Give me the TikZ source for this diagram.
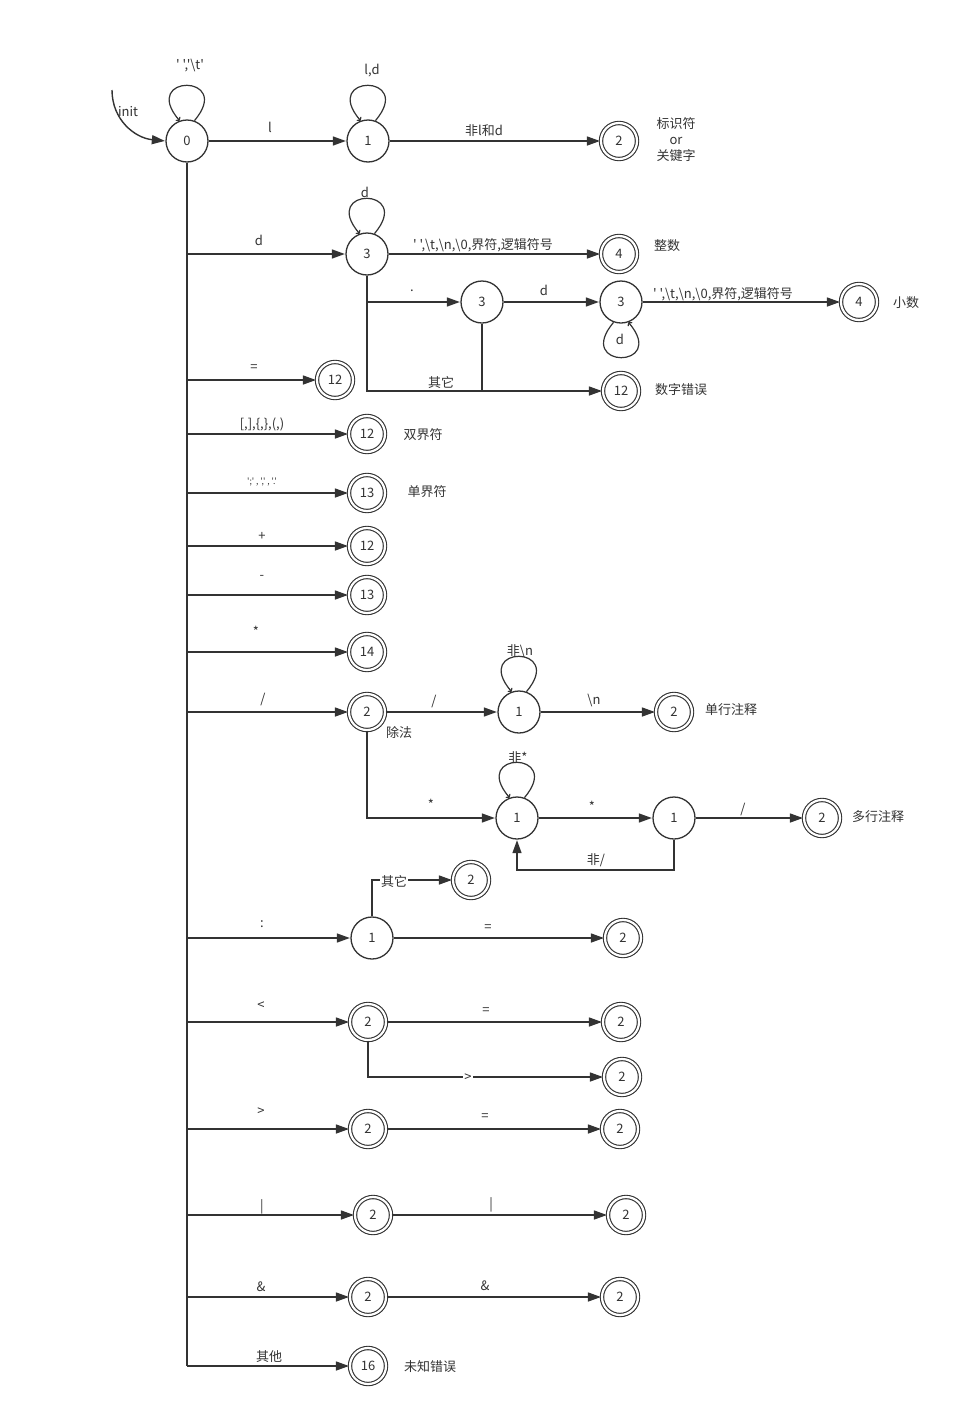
\documentclass[tikz,border=0pt]{standalone}
\usepackage{fontspec}
\newfontfamily\cjk{Noto Sans CJK SC}
\usetikzlibrary{arrows.meta}
\definecolor{ink}{HTML}{333333}
\begin{document}
\begin{tikzpicture}[x=1pt,y=-1pt,
  every node/.style={font=\cjk\fontsize{13}{16}\selectfont, text=ink},
  state/.style={circle,draw=ink,line width=1.3pt,minimum size=42pt,inner sep=0pt,fill=white},
  final/.style={circle,draw=ink,line width=1.1pt,double=white,double distance=2.2pt,minimum size=36pt,inner sep=0pt},
  lbl/.style={inner sep=1pt},
  small/.style={font=\cjk\fontsize{8.5}{10}\selectfont},
  wire/.style={draw=ink,line width=1.4pt},
  arr/.style={wire,-{Triangle[length=13pt,width=9pt]},shorten >=0.5pt},
  selfloop/.style={draw=ink,line width=1.2pt,-{To[length=3pt,width=6pt]}}]

\path[fill=white] (0,0) rectangle (959,1419);
\useasboundingbox (0,0) rectangle (959,1419);

% ---------- states ----------
\node[state] (s0)  at (187,141) {0};
\node[state] (s1)  at (368,141) {1};
\node[final] (f1)  at (619,141) {2};
\node[state] (n3)  at (367,254) {3};
\node[final] (f4)  at (619,254) {4};
\node[state] (n3b) at (482,302) {3};
\node[state] (n3c) at (621,302) {3};
\node[final] (f4b) at (859,302) {4};
\node[final] (f12e) at (621,391) {12};
\node[final] (fe)  at (335,380) {12};
\node[final] (fb)  at (367,434) {12};
\node[final] (fs)  at (367,493) {13};
\node[final] (fp)  at (367,546) {12};
\node[final] (fm)  at (367,595) {13};
\node[final] (fst) at (367,652) {14};
\node[final] (fsl) at (367,712) {2};
\node[state] (m0)  at (519,712) {1};
\node[final] (fsc) at (674,712) {2};
\node[state] (m1)  at (517,818) {1};
\node[state] (m2)  at (674,818) {1};
\node[final] (fmc) at (822,818) {2};
\node[final] (fco) at (471,880) {2};
\node[state] (c1)  at (372,938) {1};
\node[final] (fce) at (623,938) {2};
\node[final] (flt) at (368,1022) {2};
\node[final] (fle) at (621,1022) {2};
\node[final] (fne) at (622,1077) {2};
\node[final] (fgt) at (368,1129) {2};
\node[final] (fge) at (620,1129) {2};
\node[final] (for) at (373,1215) {2};
\node[final] (foo) at (626,1215) {2};
\node[final] (fan) at (368,1297) {2};
\node[final] (faa) at (620,1297) {2};
\node[final] (fun) at (368,1366) {16};

% ---------- trunk and branch points ----------
\coordinate (initstart) at (112,90);
\coordinate (trunkend) at (187,1366);
\coordinate (bd)   at (187,254);
\coordinate (beq)  at (187,380);
\coordinate (bbr)  at (187,434);
\coordinate (bsm)  at (187,493);
\coordinate (bpl)  at (187,546);
\coordinate (bmi)  at (187,595);
\coordinate (bst)  at (187,652);
\coordinate (bsl)  at (187,712);
\coordinate (bco)  at (187,938);
\coordinate (blt)  at (187,1022);
\coordinate (bgt)  at (187,1129);
\coordinate (bor)  at (187,1215);
\coordinate (ban)  at (187,1297);
\coordinate (bun)  at (187,1366);
\coordinate (bdot) at (367,302);
\coordinate (join) at (482,391);
\coordinate (back) at (596,870);

\draw[wire] (s0.south) -- (trunkend);

% ---------- connectors ----------
\draw[arr] (initstart) .. controls (112,120) and (135,138) .. (s0.west);
\draw[selfloop] (s0.70) .. controls +(40,-47) and +(-40,-47) .. (s0.110);
\draw[arr] (s0) -- (s1);
\draw[selfloop] (s1.70) .. controls +(40,-47) and +(-40,-47) .. (s1.110);
\draw[arr] (s1) -- (f1);

\draw[arr] (bd) -- (n3);
\draw[selfloop] (n3.70) .. controls +(40,-47) and +(-40,-47) .. (n3.110);
\draw[arr] (n3) -- (f4);
\draw[arr] (n3.south) |- (f12e);
\draw[arr] (bdot) -- (n3b);
\draw[wire] (n3b.south) -- (join);
\draw[arr] (n3b) -- (n3c);
\draw[selfloop] (n3c.250) .. controls +(-40,47) and +(40,47) .. (n3c.290);
\draw[arr] (n3c) -- (f4b);

\draw[arr] (beq) -- (fe);
\draw[arr] (bbr) -- (fb);
\draw[arr] (bsm) -- (fs);
\draw[arr] (bpl) -- (fp);
\draw[arr] (bmi) -- (fm);
\draw[arr] (bst) -- (fst);

\draw[arr] (bsl) -- (fsl);
\draw[arr] (fsl) -- (m0);
\draw[selfloop] (m0.70) .. controls +(40,-47) and +(-40,-47) .. (m0.110);
\draw[arr] (m0) -- (fsc);
\draw[arr] (fsl.south) |- (m1);
\draw[selfloop] (m1.70) .. controls +(40,-47) and +(-40,-47) .. (m1.110);
\draw[arr] (m1) -- (m2);
\draw[arr] (m2) -- (fmc);
\draw[arr] (m2.south) |- (back) -| (m1.south);

\draw[arr] (bco) -- (c1);
\draw[arr] (c1.north) |- (fco);
\draw[arr] (c1) -- (fce);

\draw[arr] (blt) -- (flt);
\draw[arr] (flt) -- (fle);
\draw[arr] (flt.south) |- (fne);

\draw[arr] (bgt) -- (fgt);
\draw[arr] (fgt) -- (fge);
\draw[arr] (bor) -- (for);
\draw[arr] (for) -- (foo);
\draw[arr] (ban) -- (fan);
\draw[arr] (fan) -- (faa);
\draw[arr] (bun) -- (fun);

% ---------- connector labels ----------
\node[lbl] (L1)  at (190,66)  {' ','\textbackslash t'};
\node[lbl] (L2)  at (128,112) {init};
\node[lbl] (L3)  at (270,127) {l};
\node[lbl] (L4)  at (372,71)  {l,d};
\node[lbl] (L5)  at (484,131) {非l和d};
\node[lbl] (L6)  at (259,240) {d};
\node[lbl] (L7)  at (365,192) {d};
\node[lbl] (L8)  at (483,245) {' ',\textbackslash t,\textbackslash n,\textbackslash 0,界符,逻辑符号};
\node[lbl] (L9)  at (412,291) {.};
\node[lbl] (L10) at (544,290) {d};
\node[lbl] (L11) at (723,294) {' ',\textbackslash t,\textbackslash n,\textbackslash 0,界符,逻辑符号};
\node[lbl] (L12) at (620,339) {d};
\node[lbl] (L13) at (441,382) {其它};
\node[lbl] (L14) at (254,368) {=};
\node[lbl] (L15) at (262,424) {[,],\{,\},(,)};
\node[lbl,small] (L16) at (262,482) {';' , ',' , '.'};
\node[lbl] (L17) at (262,536) {+};
\node[lbl] (L18) at (262,577) {-};
\node[lbl] (L19) at (256,631) {*};
\node[lbl] (L20) at (263,699) {/};
\node[lbl] (L21) at (434,701) {/};
\node[lbl] (L22) at (520,651) {非\textbackslash n};
\node[lbl] (L23) at (594,700) {\textbackslash n};
\node[lbl] (L24) at (431,804) {*};
\node[lbl] (L25) at (518,758) {非*};
\node[lbl] (L26) at (592,806) {*};
\node[lbl] (L27) at (743,809) {/};
\node[lbl] (L28) at (596,860) {非/};
\node[lbl] (L29) at (262,924) {:};
\node[lbl,fill=white] (L30) at (394,881) {其它};
\node[lbl] (L31) at (488,928) {=};
\node[lbl] (L32) at (261,1006) {<};
\node[lbl] (L33) at (486,1011) {=};
\node[lbl,fill=white] (L34) at (468,1078) {>};
\node[lbl] (L35) at (261,1112) {>};
\node[lbl] (L36) at (485,1117) {=};
\node[lbl] (L37) at (262,1207) {|};
\node[lbl] (L38) at (491,1205) {|};
\node[lbl] (L39) at (261,1287) {\&};
\node[lbl] (L40) at (485,1286) {\&};
\node[lbl] (L41) at (269,1357) {其他};

% ---------- state annotations ----------
\node[lbl,align=center] (A1) at (676,140) {标识符\\or\\关键字};
\node[lbl] (A2) at (667,246) {整数};
\node[lbl] (A3) at (906,303) {小数};
\node[lbl] (A4) at (681,390) {数字错误};
\node[lbl] (A5) at (423,435) {双界符};
\node[lbl] (A6) at (427,492) {单界符};
\node[lbl] (A7) at (399,732) {除法};
\node[lbl] (A8) at (731,710) {单行注释};
\node[lbl] (A9) at (878,817) {多行注释};
\node[lbl] (A10) at (430,1367) {未知错误};
\end{tikzpicture}
\end{document}
